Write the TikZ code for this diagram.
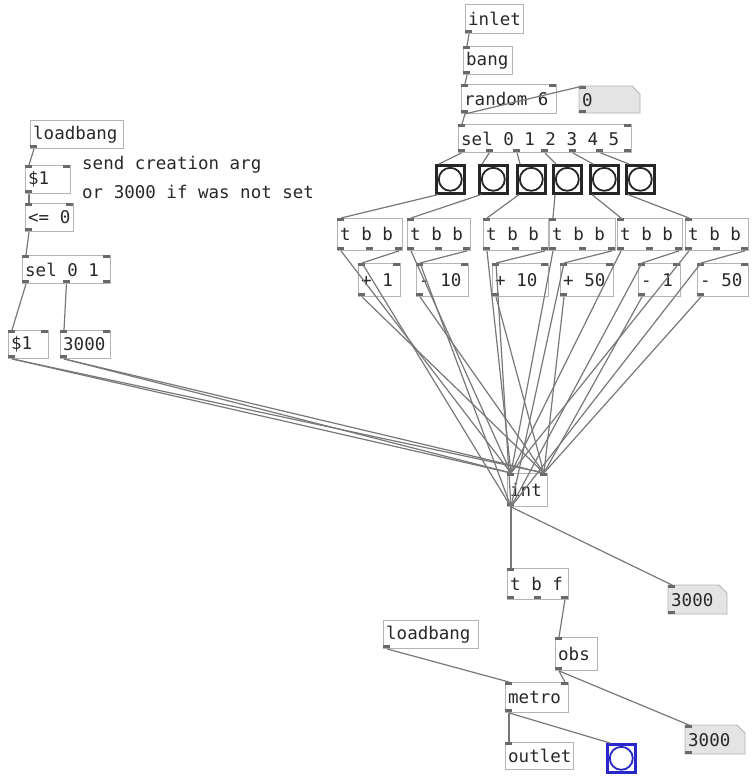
\documentclass[tikz,border=0pt]{standalone}
\usepackage{fontspec}
\newfontfamily\pdfont{DejaVu Sans Mono}
\usetikzlibrary{calc}
\definecolor{boxc}{RGB}{180,180,180}
\definecolor{ioc}{RGB}{105,105,105}
\definecolor{linec}{RGB}{120,120,120}
\definecolor{numfill}{RGB}{228,228,228}
\definecolor{txtc}{RGB}{40,40,40}
\definecolor{selblue}{RGB}{40,40,200}
\tikzset{
 pdbox/.style={draw=boxc, line width=0.9pt, rectangle, inner sep=0pt, anchor=north west},
 numbox/.style={draw=none, rectangle, inner sep=0pt, anchor=north west},
 pdtxt/.style={anchor=west, inner sep=0pt, text=txtc, font=\pdfont\fontsize{17.5}{20}\selectfont},
 conn/.style={draw=linec, line width=1.2pt},
 iol/.style={fill=ioc},
 bngbox/.style={draw=black!85, line width=2.6pt, rectangle, inner sep=0pt, minimum size=28pt, anchor=north west},
}
\newcommand\pdio[5]{%
  \ifnum#4>0
   \foreach \k in {1,...,#4}{%
     \pgfmathsetmacro\xx{#1+(\k-1)*(#2-#1-7)/max(#4-1,1)}
     \fill[iol] (\xx,#3) rectangle ++(7,#5);
   }%
  \fi}
\newcommand\pdobj[9]{%
  \pgfmathsetmacro\pdw{#4-#2}\pgfmathsetmacro\pdh{#5-#3}%
  \node[#9, minimum width=\pdw pt, minimum height=\pdh pt] (#1) at (#2,#3) {};
  \node[pdtxt] (#1-t) at ([xshift=3pt]#1.west) {#6};
  \pdio{#2}{#4}{#3}{#7}{3}
  \pdio{#2}{#4}{#5}{#8}{-3}
}
\newcommand\pdnum[6]{%
  \filldraw[fill=numfill, draw=boxc, line width=0.9pt] (#2,#3) -- (#4-8,#3) -- (#4,#3+8) -- (#4,#5) -- (#2,#5) -- cycle;
  \pdobj{#1}{#2}{#3}{#4}{#5}{#6}{1}{1}{numbox}
}
\begin{document}
\begin{tikzpicture}[x=1pt,y=-1pt]
\fill[white] (0,0) rectangle (752,777);
\useasboundingbox (0,0) rectangle (752,777);

% top chain
\pdobj{inl}{465}{4}{523}{33}{inlet}{0}{1}{pdbox}
\pdobj{bng}{463}{46}{512}{74}{bang}{1}{1}{pdbox}
\pdobj{rnd}{461}{84}{556}{113}{random 6}{2}{1}{pdbox}
\pdnum{num0}{579}{86}{640}{113}{0}
\pdobj{sel}{458}{124}{631}{152}{sel 0 1 2 3 4 5}{2}{7}{pdbox}

% bang GUIs
\foreach \i/\x in {0/435,1/478,2/516,3/552,4/589,5/625}{
  \node[bngbox] (b\i) at (\x,164) {};
  \draw[line width=1.8pt, black!85] (b\i.center) circle (11.5pt);
}

% trigger boxes
\foreach \i/\xa/\xb in {0/337/402,1/407/470,2/483/548,3/549/615,4/617/682,5/685/748}{
  \pdobj{tbb\i}{\xa}{218}{\xb}{250}{t b b}{1}{3}{pdbox}
}
% math boxes
\pdobj{m0}{358}{263}{400}{296}{+ 1}{2}{1}{pdbox}
\pdobj{m1}{416}{263}{468}{296}{- 10}{2}{1}{pdbox}
\pdobj{m2}{492}{263}{548}{296}{+ 10}{2}{1}{pdbox}
\pdobj{m3}{560}{263}{613}{296}{+ 50}{2}{1}{pdbox}
\pdobj{m4}{638}{263}{680}{296}{- 1}{2}{1}{pdbox}
\pdobj{m5}{697}{263}{748}{296}{- 50}{2}{1}{pdbox}

% lower chain
\pdobj{int}{507}{473}{547}{506}{int}{2}{1}{pdbox}
\pdobj{tbf}{507}{568}{568}{599}{t b f}{1}{3}{pdbox}
\pdnum{n3a}{668}{585}{727}{614}{3000}
\pdobj{lb2}{383}{620}{478}{648}{loadbang}{0}{1}{pdbox}
\pdobj{obs}{555}{637}{597}{670}{obs}{1}{1}{pdbox}
\pdobj{met}{505}{682}{568}{712}{metro}{2}{1}{pdbox}
\pdobj{out}{505}{742}{573}{769}{outlet}{1}{0}{pdbox}
\pdnum{n3b}{685}{725}{745}{754}{3000}
\node[bngbox, draw=selblue] (bb) at (606,743) {};
\draw[line width=1.8pt, selblue] (bb.center) circle (11.5pt);

% left part
\pdobj{lb1}{30}{120}{123}{148}{loadbang}{0}{1}{pdbox}
\pdobj{ms1}{25}{165}{70}{193}{\$1}{2}{1}{pdbox}
\node[pdtxt] (cm1) at (82,165) {send creation arg};
\node[pdtxt] (cm2) at (82,192) {or 3000 if was not set};
\pdobj{le}{25}{203}{73}{231}{<= 0}{2}{1}{pdbox}
\pdobj{s01}{22}{255}{110}{283}{sel 0 1}{2}{3}{pdbox}
\pdobj{d1}{8}{330}{48}{358}{\$1}{2}{1}{pdbox}
\pdobj{d3}{60}{330}{110}{358}{3000}{2}{1}{pdbox}

% connections: top chain
\draw[conn] ([xshift=4pt]inl.south west) -- ([xshift=4pt]bng.north west);
\draw[conn] ([xshift=4pt]bng.south west) -- ([xshift=4pt]rnd.north west);
\draw[conn] ([xshift=4pt]rnd.south west) -- ([xshift=4pt]sel.north west);
\draw[conn] ([xshift=4pt]rnd.south west) -- ([xshift=4pt]num0.north west);
\foreach \i [evaluate=\i as \f using \i/6] in {0,...,5}{
  \draw[conn] ($([xshift=3.5pt]sel.south west)!\f!([xshift=-3.5pt]sel.south east)$) -- ([xshift=4pt]b\i.north west);
  \draw[conn] ([xshift=3pt]b\i.south west) -- ([xshift=4pt]tbb\i.north west);
  \draw[conn] ([xshift=-4pt]tbb\i.south east) -- ([xshift=4pt]m\i.north west);
  \draw[conn] ([xshift=4pt]tbb\i.south west) -- ([xshift=4pt]int.north west);
  \draw[conn] ([xshift=4pt]m\i.south west) -- ([xshift=-4pt]int.north east);
  \draw[conn] ([xshift=4pt]int.south west) -- ([xshift=4pt]m\i.north west);
}
% left chain
\draw[conn] ([xshift=4pt]lb1.south west) -- ([xshift=4pt]ms1.north west);
\draw[conn] ([xshift=4pt]ms1.south west) -- ([xshift=4pt]le.north west);
\draw[conn] ([xshift=4pt]le.south west) -- ([xshift=4pt]s01.north west);
\draw[conn] ([xshift=4pt]s01.south west) -- ([xshift=4pt]d1.north west);
\draw[conn] ($(s01.south west)!0.5!(s01.south east)$) -- ([xshift=4pt]d3.north west);
\draw[conn] ([xshift=4pt]d1.south west) -- ([xshift=4pt]int.north west);
\draw[conn] ([xshift=4pt]d1.south west) -- ([xshift=-4pt]int.north east);
\draw[conn] ([xshift=4pt]d3.south west) -- ([xshift=4pt]int.north west);
\draw[conn] ([xshift=4pt]d3.south west) -- ([xshift=-4pt]int.north east);
% lower chain
\draw[conn] ([xshift=4pt]int.south west) -- ([xshift=4pt]tbf.north west);
\draw[conn] ([xshift=4pt]int.south west) -- ([xshift=4pt]n3a.north west);
\draw[conn] ([xshift=-4pt]tbf.south east) -- ([xshift=4pt]obs.north west);
\draw[conn] ([xshift=4pt]obs.south west) -- ([xshift=-4pt]met.north east);
\draw[conn] ([xshift=4pt]obs.south west) -- ([xshift=4pt]n3b.north west);
\draw[conn] ([xshift=4pt]lb2.south west) -- ([xshift=4pt]met.north west);
\draw[conn] ([xshift=4pt]met.south west) -- ([xshift=4pt]out.north west);
\draw[conn] ([xshift=4pt]met.south west) -- ([xshift=4pt]bb.north west);
\end{tikzpicture}
\end{document}
